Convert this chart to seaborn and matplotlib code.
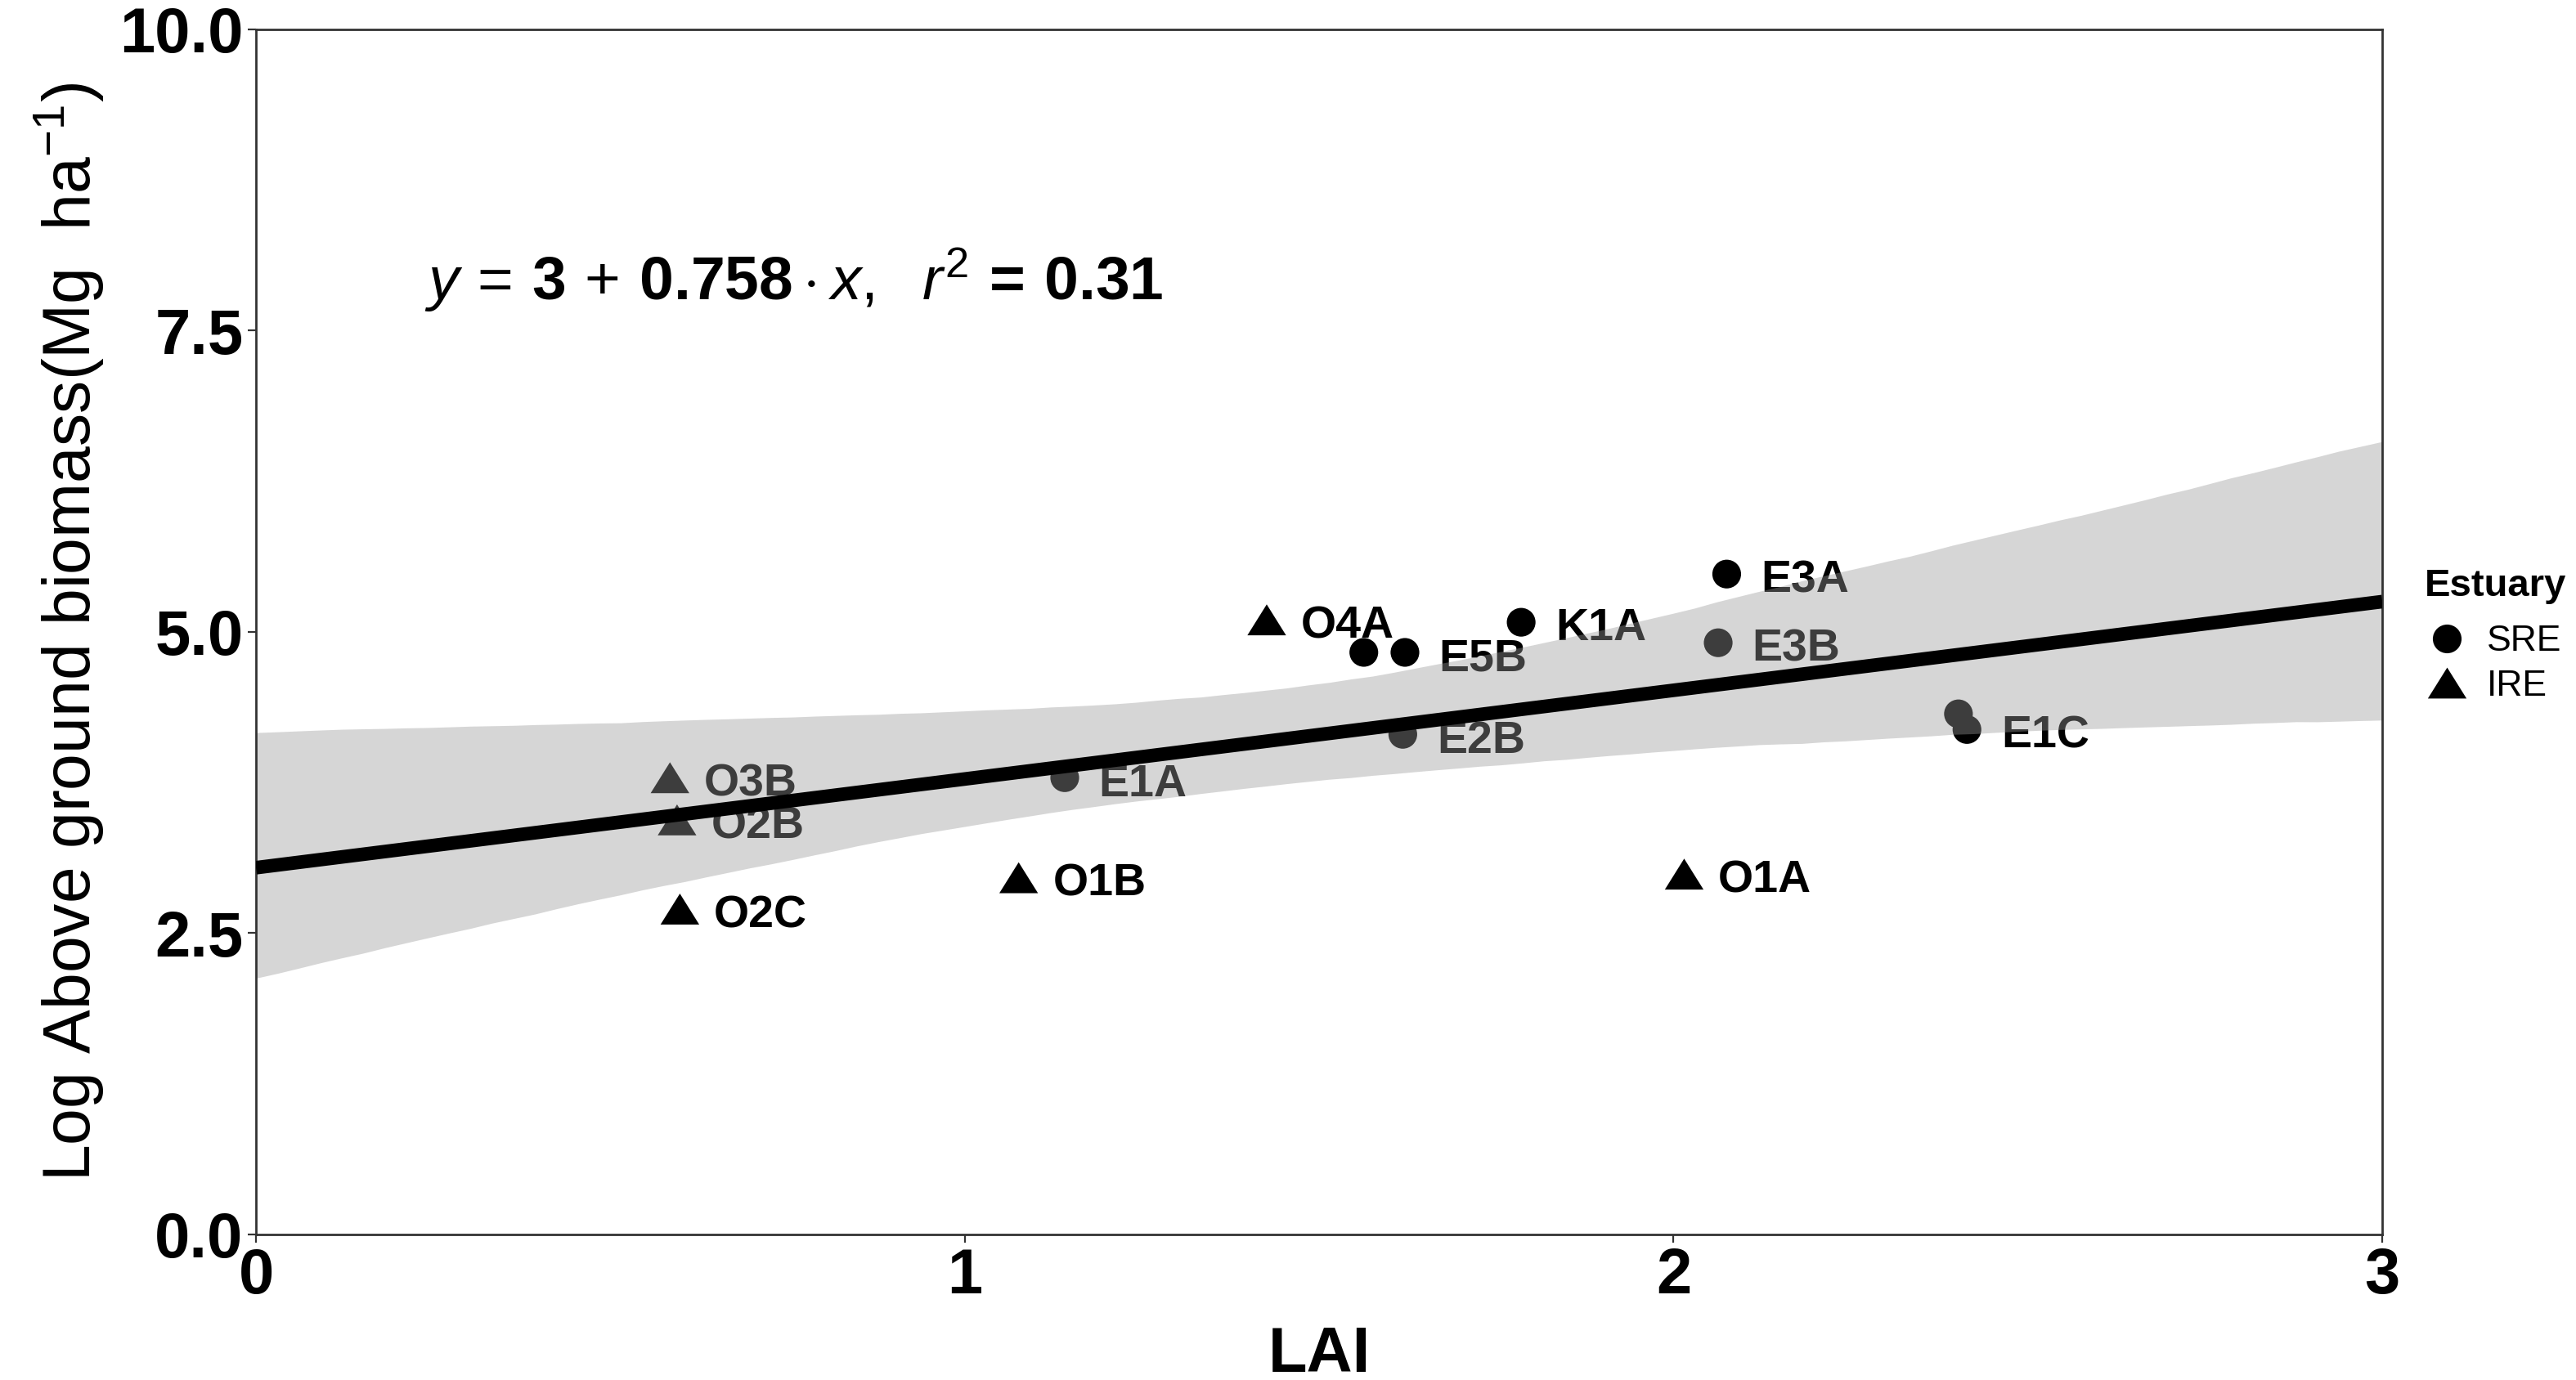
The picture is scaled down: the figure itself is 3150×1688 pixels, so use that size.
import numpy as np
import pandas as pd
import matplotlib
matplotlib.use('Agg')
import matplotlib.pyplot as plt
import seaborn as sns

# data
sites = ['O3B', 'O2B', 'O2C', 'E1A', 'O1B', 'O4A', '', 'E5B', 'E2B', 'K1A',
         'E3A', 'E3B', '', 'E1C', 'O1A']
estuary = ['IRE', 'IRE', 'IRE', 'SRE', 'IRE', 'IRE', 'SRE', 'SRE', 'SRE', 'SRE',
           'SRE', 'SRE', 'SRE', 'SRE', 'IRE']
lai = [0.584, 0.594, 0.598, 1.141, 1.076, 1.426, 1.563, 1.621, 1.618, 1.785,
       2.075, 2.063, 2.402, 2.414, 2.015]
agb = [3.79, 3.44, 2.70, 3.79, 2.96, 5.10, 4.83, 4.83, 4.15, 5.08,
       5.48, 4.91, 4.32, 4.19, 2.99]
y_ticks = [0, 2.5, 5, 7.5, 10]
x_ticks = [0, 1, 2, 3]
equation = r'$y\,=\,\mathbf{3}\,+\,\mathbf{0.758}\cdot x,\ \ r^2\,\mathbf{=\,0.31}$'

df = pd.DataFrame({'Site': sites, 'Estuary': estuary, 'LAI': lai, 'AGB': agb})

sns.set_style('white')
plt.rcParams['font.family'] = ['Liberation Sans', 'DejaVu Sans']
plt.rcParams['mathtext.fontset'] = 'custom'
plt.rcParams['mathtext.rm'] = 'Liberation Sans'
plt.rcParams['mathtext.it'] = 'Liberation Sans:italic'
plt.rcParams['mathtext.bf'] = 'Liberation Sans:bold'
for k in ['text.color', 'axes.labelcolor', 'xtick.color', 'ytick.color']:
    plt.rcParams[k] = 'black'

fig = plt.figure(figsize=(15.75, 8.44), dpi=200)
ax = fig.add_axes([0.0994, 0.1055, 0.8254, 0.8732])
ax.set_xlim(0, 3)
ax.set_ylim(0, 10)

tri = [(-1, -0.8), (1, -0.8), (0, 0.8)]
sns.scatterplot(data=df, x='LAI', y='AGB', style='Estuary', size='Estuary',
                markers={'SRE': 'o', 'IRE': tri}, sizes={'SRE': 160, 'IRE': 290},
                style_order=['SRE', 'IRE'], size_order=['SRE', 'IRE'],
                color='black', linewidth=0, ax=ax, zorder=1)

for _, r in df.iterrows():
    if r['Site']:
        ax.annotate(r['Site'], (r['LAI'], r['AGB']), xytext=(15, -3),
                    textcoords='offset points', ha='left', va='center',
                    fontsize=20, fontweight='bold', color='black', zorder=1.5)

n_before = len(ax.collections)
sns.regplot(data=df, x='LAI', y='AGB', scatter=False, truncate=False, ax=ax,
            color='black', seed=0, ci=96, n_boot=5000,
            line_kws=dict(lw=6, zorder=3, solid_capstyle='butt'))
for c in ax.collections[n_before:]:
    c.set_facecolor('#999999')
    c.set_alpha(0.4)
    c.set_edgecolor('none')
    c.set_zorder(2)

ax.text(0.237, 7.92, equation, fontsize=27, ha='left', va='center', zorder=4)

ax.set_xlim(0, 3)
ax.set_ylim(0, 10)
ax.set_xticks(x_ticks)
ax.set_xticklabels([str(v) for v in x_ticks])
ax.set_yticks(y_ticks)
ax.set_yticklabels([f'{v:.1f}' for v in y_ticks])
ax.tick_params(direction='out', length=3.6, width=0.8, labelsize=28, pad=2,
               bottom=True, left=True, color='#333333', labelcolor='black')
for t in ax.get_xticklabels() + ax.get_yticklabels():
    t.set_fontweight('bold')

ax.set_xlabel('LAI', fontsize=28, fontweight='bold', labelpad=8)
ax.set_ylabel('Log Above ground biomass(Mg  ha$^{-1}$)', fontsize=29, labelpad=6)

for s in ax.spines.values():
    s.set_visible(True)
    s.set_color('#333333')
    s.set_linewidth(1.0)

sns.move_legend(ax, 'center left', bbox_to_anchor=(1.02, 0.497), frameon=False,
                title='Estuary', fontsize=16, title_fontsize=17,
                handletextpad=0.5, labelspacing=0.3, handlelength=1.2,
                borderaxespad=0, borderpad=0)
leg = ax.get_legend()
leg.get_title().set_fontweight('bold')
leg._legend_box.align = 'left'
leg._legend_box.sep = 9

fig.savefig('out.png', dpi=200)
